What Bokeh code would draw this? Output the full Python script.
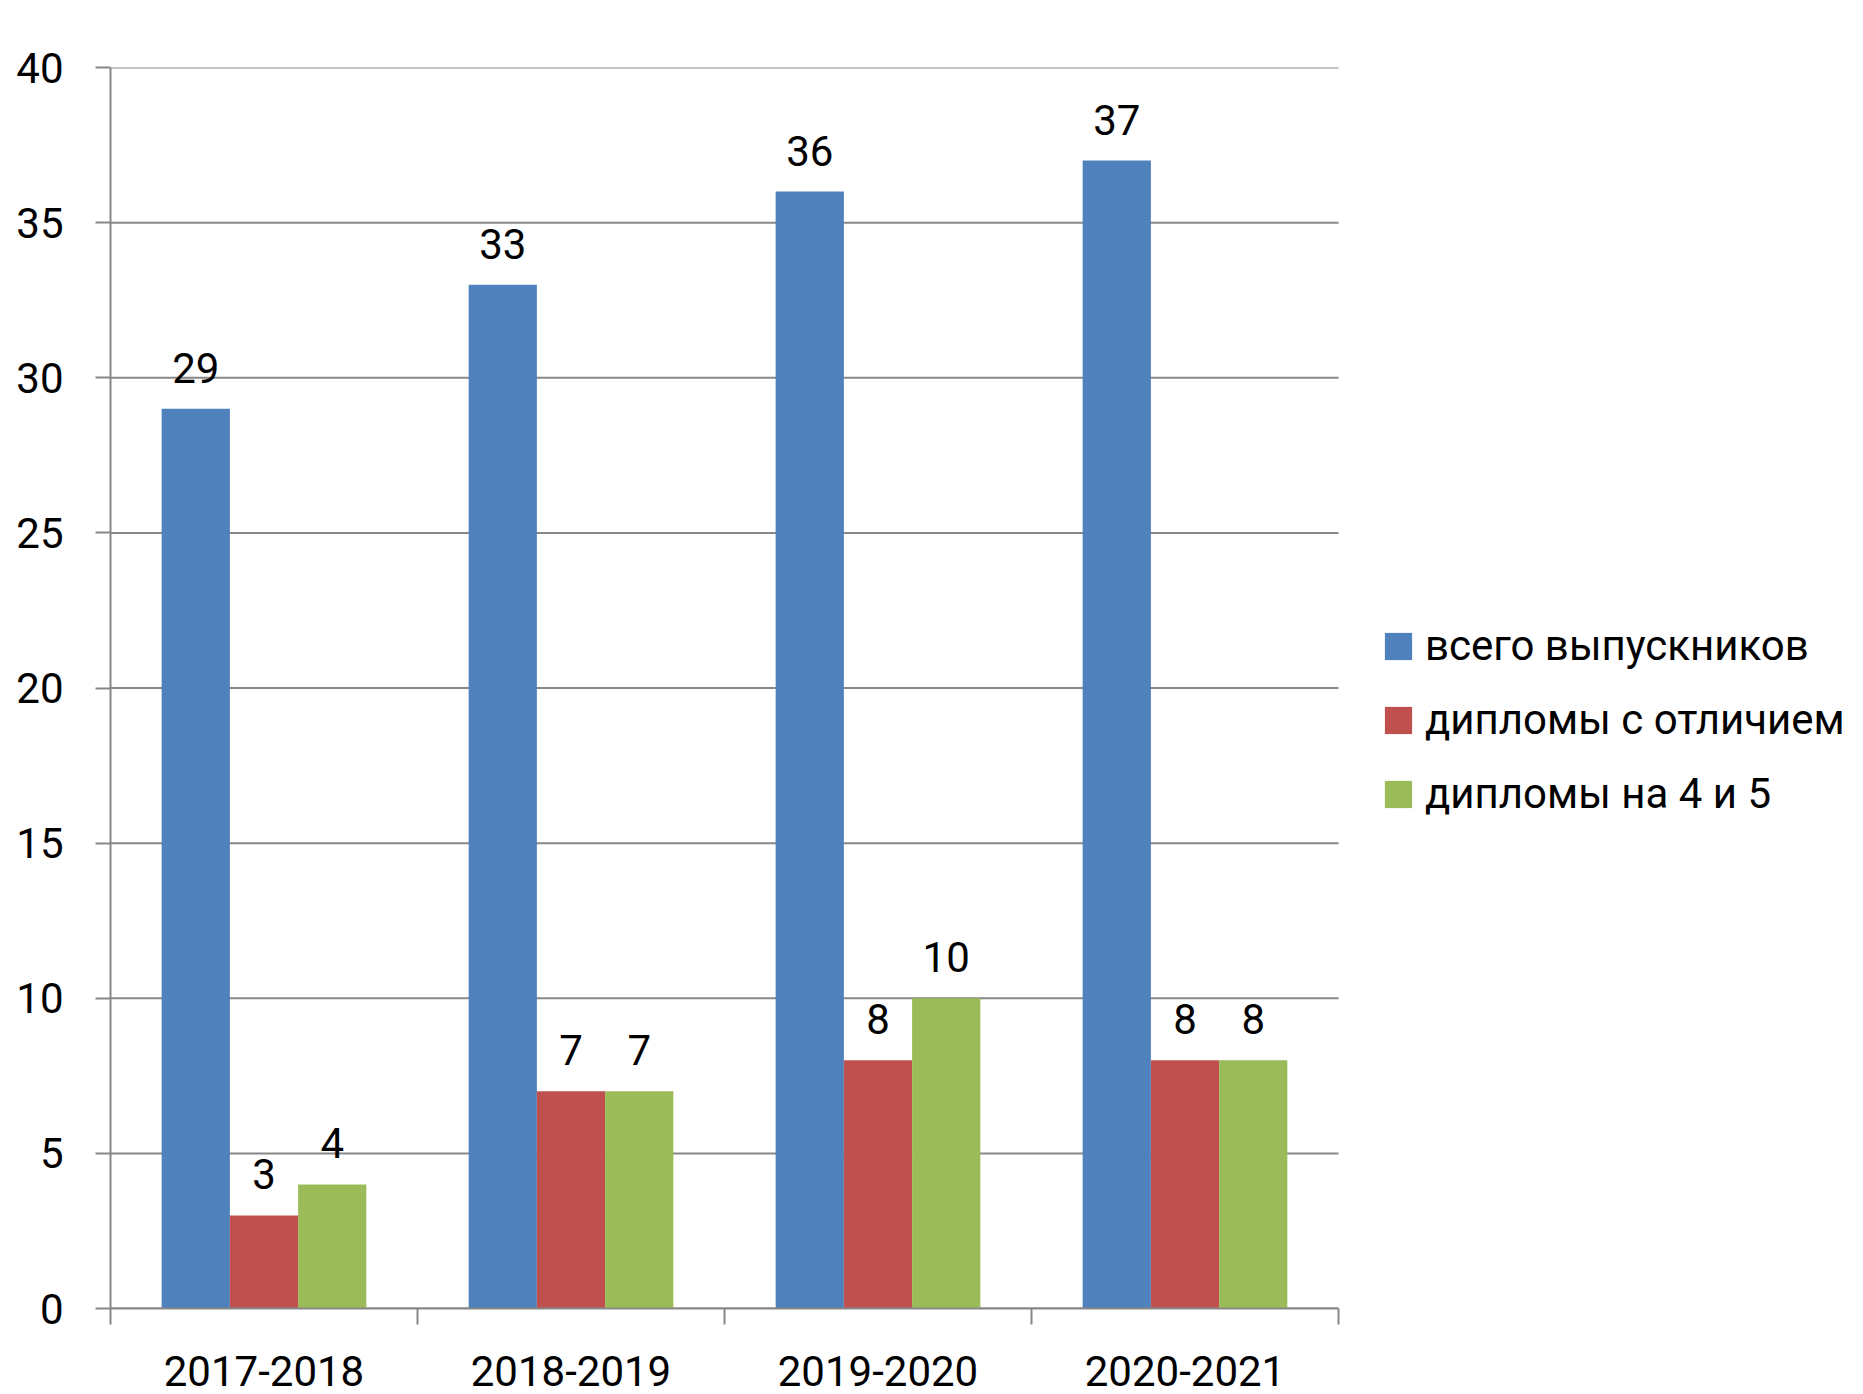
from bokeh.plotting import figure
from bokeh.models import (ColumnDataSource, Range1d, FixedTicker, CustomJSTickFormatter,
                          LabelSet, Legend, LegendItem)
from bokeh.transform import dodge
from bokeh.core.properties import value
from bokeh.embed import file_html
from bokeh.resources import INLINE

# ---- data ----
categories = ["2017-2018", "2018-2019", "2019-2020", "2020-2021"]
total_graduates = [29, 33, 36, 37]
honors_diplomas = [3, 7, 8, 8]
good_diplomas = [4, 7, 10, 8]
series_names = ["всего выпускников", "дипломы с отличием", "дипломы на 4 и 5"]
y_ticks = [0, 5, 10, 15, 20, 25, 30, 35, 40]

# ---- style / layout ----
FONT = "Roboto"
FS = "42px"
GRID = "#878787"
colors = ["#4F81BD", "#C0504D", "#9BBB59"]
W, H = 1863, 1394
LEFT, TOP, BOTTOM = 110, 67, 86
PLOT_W = 1228            # width of the bar area in px; the legend sits to its right
bar_w = 2 / 9
offsets = [-bar_w, 0.0, bar_w]
fields = ["total", "honors", "good"]

n = len(categories)
xc = [i + 0.5 for i in range(n)]
src = ColumnDataSource(dict(
    xc=xc, cat=categories,
    total=total_graduates, honors=honors_diplomas, good=good_diplomas,
    total_s=[str(v) for v in total_graduates],
    honors_s=[str(v) for v in honors_diplomas],
    good_s=[str(v) for v in good_diplomas],
))
grid_src = ColumnDataSource(dict(y=y_ticks, x0=[0] * len(y_ticks), x1=[n] * len(y_ticks)))

x_end = n * (W - LEFT) / PLOT_W
p = figure(width=W, height=H,
           x_range=Range1d(0, x_end), y_range=Range1d(0, 40),
           output_backend="svg", toolbar_location=None,
           min_border_left=LEFT, min_border_right=0,
           min_border_top=TOP, min_border_bottom=BOTTOM)
p.outline_line_color = None
p.background_fill_color = "white"
p.border_fill_color = "white"

# horizontal gridlines, limited to the category area
p.segment(x0="x0", x1="x1", y0="y", y1="y", source=grid_src,
          line_color=GRID, line_width=2)

renderers = []
for f, off, col in zip(fields, offsets, colors):
    r = p.vbar(x=dodge("xc", off), top=f, width=bar_w, source=src,
               fill_color=col, line_color=None)
    renderers.append(r)
    lbl = LabelSet(x=dodge("xc", off), y=f, text=f + "_s", source=src,
                   text_align="center", text_baseline="alphabetic", y_offset=26,
                   text_font=value(FONT), text_font_size=FS, text_color="black")
    p.add_layout(lbl)

# y axis
yax = p.yaxis[0]
yax.ticker = FixedTicker(ticks=y_ticks)
yax.axis_line_color = GRID
yax.axis_line_width = 2
yax.major_tick_line_color = GRID
yax.major_tick_line_width = 2
yax.major_tick_out = 15
yax.major_tick_in = 0
yax.minor_tick_line_color = None
yax.major_label_text_font = FONT
yax.major_label_text_font_size = FS
yax.major_label_text_color = "black"
yax.major_label_standoff = 32

# x axis: labels at category centres, ticks at category boundaries
xax = p.xaxis[0]
xax.bounds = (0, n)
xax.ticker = FixedTicker(ticks=xc, minor_ticks=list(range(n + 1)))
xax.formatter = CustomJSTickFormatter(args=dict(cats=categories),
                                      code="return cats[Math.floor(tick)];")
xax.axis_line_color = GRID
xax.axis_line_width = 2
xax.major_tick_line_color = None
xax.major_tick_out = 0
xax.major_tick_in = 0
xax.minor_tick_line_color = GRID
xax.minor_tick_line_width = 2
xax.minor_tick_out = 16
xax.minor_tick_in = 0
xax.major_label_text_font = FONT
xax.major_label_text_font_size = FS
xax.major_label_text_color = "black"
xax.major_label_standoff = 31

p.xgrid.grid_line_color = None
p.ygrid.grid_line_color = None

legend = Legend(items=[LegendItem(label=nm, renderers=[r]) for nm, r in zip(series_names, renderers)],
                location=(1271, 490), orientation="vertical",
                glyph_width=34, glyph_height=34, label_standoff=10, spacing=25,
                padding=0, margin=0, border_line_color=None, background_fill_alpha=0,
                label_text_font=FONT, label_text_font_size=FS, label_text_color="black")
p.add_layout(legend, "center")

open("out.html", "w").write(file_html(p, INLINE))
